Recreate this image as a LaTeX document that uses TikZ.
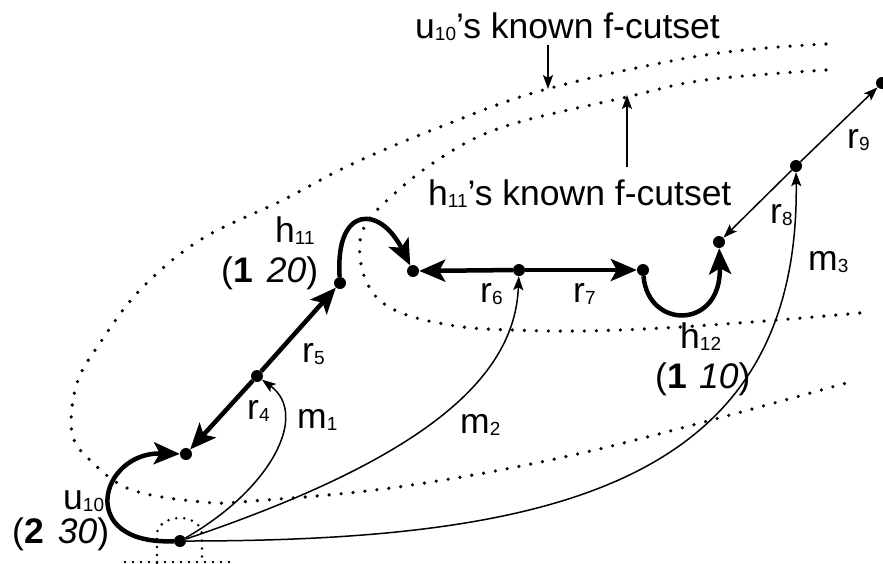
\documentclass[tikz,border=0pt]{standalone}
\usepackage{fontspec}
\setmainfont{Liberation Sans}
\usetikzlibrary{arrows.meta}

\newcommand{\idx}[1]{\raisebox{-2pt}{\fontsize{19}{19}\selectfont #1}}

\begin{document}
\begin{tikzpicture}[x=1pt, y=-1pt,
        dot/.style={circle, fill=black, inner sep=0pt, minimum size=12pt},
        heavy/.style={line width=4.5pt, -{Stealth[length=26pt, width=22pt, inset=6pt]}},
        light/.style={line width=1.5pt, -{Stealth[length=14pt, width=10pt, inset=3pt]}},
        cutset/.style={line width=3.6pt, line cap=round, dash pattern=on 0pt off 12pt},
        rootbox/.style={line width=2.8pt, line cap=round, dash pattern=on 0pt off 8pt},
        lbl/.style={anchor=base west, inner sep=0pt, font=\fontsize{35.5}{40}\selectfont}]
        \clip (0,0) rectangle (883,563);

        % Define the vertices
        \node[dot] (U10) at (180,541) {};   % u10
        \node[dot] (P1) at (186,454) {};    % end of u10's loop
        \node[dot] (V4) at (257,376) {};    % between r4 and r5
        \node[dot] (H11) at (340,283) {};   % h11
        \node[dot] (P2) at (413,271) {};    % end of h11's loop
        \node[dot] (V6) at (519,270) {};    % between r6 and r7
        \node[dot] (H12) at (643,270) {};   % h12
        \node[dot] (P3) at (719,242) {};    % end of h12's loop
        \node[dot] (V8) at (796,166) {};    % between r8 and r9
        \node[dot] (P4) at (882,83) {};     % top right

        % Arrow tails of the two labels
        \coordinate (K1) at (548,45);
        \coordinate (K1tip) at (548,89);
        \coordinate (K2) at (627,167);
        \coordinate (K2tip) at (627,95);

        % Draw the two known f-cutsets
        \draw[cutset] plot[smooth, tension=0.6] coordinates {(826,44) (705,55) (547,89) (440,127) (350,165) (283,200) (200,240) (140,290) (100,343) (77,383) (72,433) (92,462) (132,490) (203,502) (253,501) (405,486) (595,450) (850,382)};
        \draw[cutset] plot[smooth, tension=0.6] coordinates {(826,70) (705,80) (627,97) (503,127) (433,163) (377,210) (362,233) (360,257) (367,283) (383,303) (413,317) (463,327) (513,330) (580,331) (663,328) (765,321) (860,313)};

        % Draw the dotted box at u10
        \draw[rootbox] (157,563) -- (157,535) to[out=90,in=180] (180,518) to[out=0,in=90] (202,535) -- (202,563);
        \draw[rootbox] (125,562) -- (232,562);

        % Draw the thick arrows and loops
        \draw[heavy] (U10) .. controls (75,545) and (100,452) .. (P1);
        \draw[heavy] (V4) -- (P1);
        \draw[heavy] (V4) -- (H11);
        \draw[heavy] (H11) .. controls (335,205) and (380,205) .. (P2);
        \draw[heavy] (V6) -- (P2);
        \draw[heavy] (V6) -- (H12);
        \draw[heavy] (H12) .. controls (648,330) and (722,330) .. (P3);

        % Draw the thin arrows
        \draw[light] (V8) -- (P3);
        \draw[light] (V8) -- (P4);
        \draw[light] (U10) .. controls (270,490) and (310,415) .. (V4);
        \draw[light] (U10) .. controls (420,460) and (515,380) .. (V6);
        \draw[light] (U10) .. controls (560,541) and (800,480) .. (V8);
        \draw[light] (K1) -- (K1tip);
        \draw[light] (K2) -- (K2tip);

        % Labels
        \node[lbl] (L1) at (415,38) {u\idx{10}'s known f-cutset};
        \node[lbl] (L2) at (428,205) {h\idx{11}'s known f-cutset};
        \node[lbl] (LU) at (63,509) {u\idx{10}};
        \node[lbl] (LUw) at (12,543) {(\textbf{2}\hspace{0.4em}\textit{30})};
        \node[lbl] (LH1) at (275,242) {h\idx{11}};
        \node[lbl] (LH1w) at (221,282) {(\textbf{1}\hspace{0.4em}\textit{20})};
        \node[lbl] (LH2) at (680,348) {h\idx{12}};
        \node[lbl] (LH2w) at (655,388) {(\textbf{1}\hspace{0.35em}\textit{10})};
        \node[lbl] (R4) at (247,419) {r\idx{4}};
        \node[lbl] (R5) at (302,362) {r\idx{5}};
        \node[lbl] (R6) at (480,302) {r\idx{6}};
        \node[lbl] (R7) at (573,302) {r\idx{7}};
        \node[lbl] (R8) at (770,223) {r\idx{8}};
        \node[lbl] (R9) at (847,148) {r\idx{9}};
        \node[lbl] (M1) at (297,428) {m\idx{1}};
        \node[lbl] (M2) at (460,433) {m\idx{2}};
        \node[lbl] (M3) at (808,270) {m\idx{3}};
\end{tikzpicture}
\end{document}
